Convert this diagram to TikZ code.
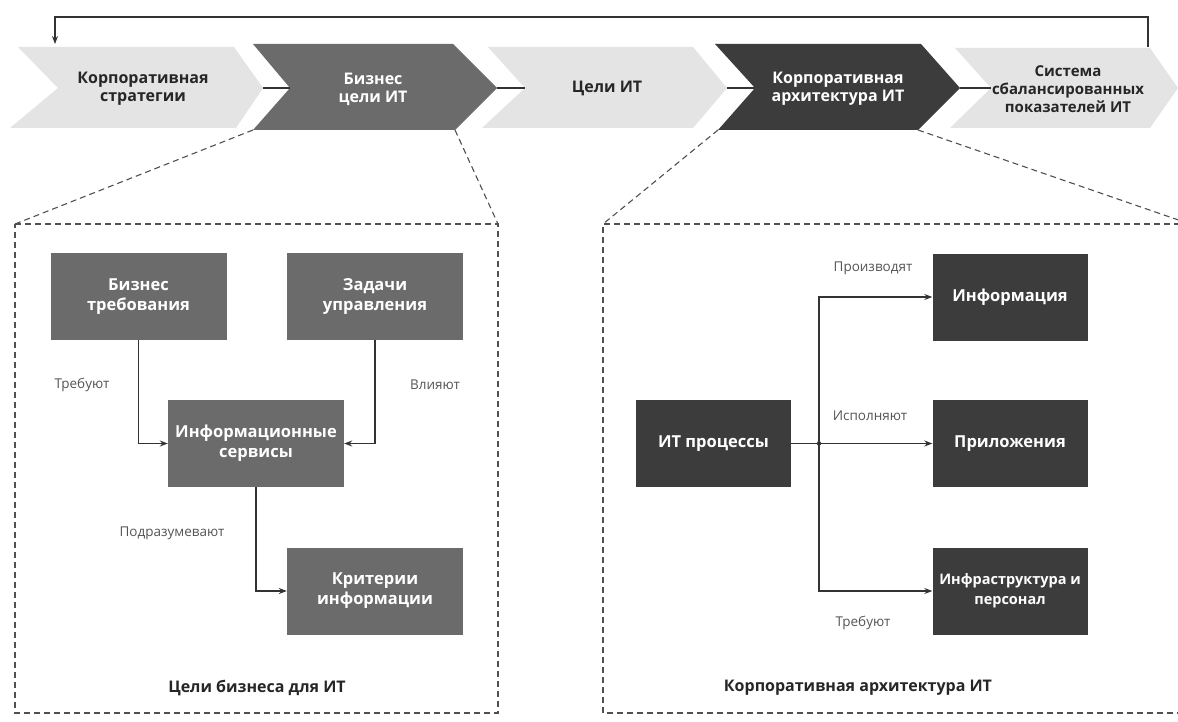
\documentclass[tikz,border=0pt]{standalone}
\usepackage{fontspec}
\setmainfont{Open Sans}
\usetikzlibrary{arrows.meta}
\definecolor{midgray}{HTML}{6B6B6B}
\definecolor{deepgray}{HTML}{3C3C3C}
\definecolor{palegray}{HTML}{E4E4E4}
\definecolor{linegray}{HTML}{333333}
\definecolor{dashgray}{HTML}{505050}
\definecolor{labelgray}{HTML}{555555}
\begin{document}
\begin{tikzpicture}[x=1pt,y=-1pt,
  chevlight/.style={fill=palegray, draw=none},
  chevmid/.style={fill=midgray, draw=none},
  chevdark/.style={fill=deepgray, draw=none},
  chevtext/.style={font=\bfseries\fontsize{16}{18}\selectfont, align=center, inner sep=0pt},
  box/.style={minimum width=176pt, minimum height=87pt, inner sep=0pt, align=center,
    text=white, font=\bfseries\fontsize{16.5}{20}\selectfont},
  midbox/.style={box, fill=midgray},
  darkbox/.style={box, fill=deepgray, minimum width=155pt},
  link/.style={draw=linegray, line width=1.3pt},
  flow/.style={draw=linegray, line width=1.1pt, -{Stealth[length=8pt,width=6pt]}},
  zoomline/.style={draw=dashgray, line width=1.1pt, dash pattern=on 6pt off 4pt},
  lbl/.style={font=\fontsize{13.5}{15}\selectfont, text=labelgray, inner sep=0pt},
  caption/.style={font=\bfseries\fontsize{16}{18}\selectfont, text=black!85, inner sep=0pt}
]
\useasboundingbox (0,0) rectangle (1178,722);
\fill[white] (0,0) rectangle (1178,722);

% value chain of chevrons
\path[chevlight] (18,47) -- (234,47) -- (263,88) -- (236,128) -- (10,128) -- (58,88) -- cycle;
\path[chevmid]   (253,44) -- (453,44) -- (497,88) -- (455,130) -- (253,130) -- (290,88) -- cycle;
\path[chevlight] (488,47) -- (693,47) -- (727,88) -- (693,128) -- (482,128) -- (525,88) -- cycle;
\path[chevdark]  (715,44) -- (921,44) -- (960,88) -- (918,130) -- (718,130) -- (755,88) -- cycle;
\path[chevlight] (955,48) -- (1150,48) -- (1178,88) -- (1150,128) -- (950,128) -- (991,88) -- cycle;

\node[chevtext, text=black!85] (strat) at (143,89) {Корпоративная\\стратегии};
\node[chevtext, text=white] (bgoals) at (373,89) {Бизнес\\цели ИТ};
\node[chevtext, text=black!85] (itgoals) at (607,88) {Цели ИТ};
\node[chevtext, text=white] (earch) at (838,89) {Корпоративная\\архитектура ИТ};
\node[chevtext, text=black!85, font=\bfseries\fontsize{15}{18}\selectfont] (bsc) at (1068,89) {Система\\сбалансированных\\показателей ИТ};

% joints between chevrons
\coordinate (t1) at (263,88); \coordinate (n2) at (290,88);
\coordinate (t2) at (497,88); \coordinate (n3) at (525,88);
\coordinate (t3) at (727,88); \coordinate (n4) at (755,88);
\coordinate (t4) at (960,88); \coordinate (n5) at (991,88);
\draw[link] (t1) -- (n2);
\draw[link] (t2) -- (n3);
\draw[link] (t3) -- (n4);
\draw[link] (t4) -- (n5);

% feedback loop over the chain
\coordinate (fbs) at (1148,47);
\coordinate (fbe) at (55,44);
\draw[draw=linegray, line width=1.3pt, -{Stealth[length=8pt,width=6pt]}]
  (fbs) -- (1148,17) -- (55,17) -- (fbe);

% left detail frame
\coordinate (d1bl) at (253,130); \coordinate (d1br) at (455,130);
\coordinate (lf1) at (15,224);  \coordinate (lf2) at (498,224);
\coordinate (lf3) at (498,713); \coordinate (lf4) at (15,713);
\draw[zoomline] (d1bl) -- (lf1);
\draw[zoomline] (d1br) -- (lf2);
\draw[zoomline] (lf1) -- (lf2) -- (lf3) -- (lf4) -- cycle;

% right detail frame
\coordinate (d2bl) at (718,130); \coordinate (d2br) at (918,130);
\coordinate (rf1) at (603,224);  \coordinate (rf2) at (1190,224);
\coordinate (rf3) at (1190,713); \coordinate (rf4) at (603,713);
\draw[zoomline] (d2bl) -- (rf1);
\draw[zoomline] (d2br) -- (rf2);
\draw[zoomline] (rf2) -- (rf1) -- (rf4) -- (rf3);

% business goals for IT
\node[midbox] (breq) at (138.5,296.5) {Бизнес\\требования};
\node[midbox] (ctrl) at (375,296.5) {Задачи\\управления};
\node[midbox] (isvc) at (256,443.5) {Информационные\\сервисы};
\node[midbox] (crit) at (375,591) {Критерии\\информации};
\draw[flow] (breq.south) |- (isvc.west);
\draw[flow] (ctrl.south) |- (isvc.east);
\draw[flow] (isvc.south) |- (crit.west);
\node[lbl] (lreq) at (82,385) {Требуют};
\node[lbl] (linf) at (435,385) {Влияют};
\node[lbl] (limp) at (172,533) {Подразумевают};
\node[caption] (capl) at (257,688) {Цели бизнеса для ИТ};

% enterprise IT architecture
\node[darkbox] (itp) at (713.5,443.5) {ИТ процессы};
\node[darkbox] (info) at (1010,297) {Информация};
\node[darkbox] (apps) at (1010,443.5) {Приложения};
\node[darkbox, font=\bfseries\fontsize{14.5}{20}\selectfont] (infra) at (1010,591) {Инфраструктура и\\персонал};
\coordinate (jn) at (819,443.5);
\draw[link, line width=1.1pt] (itp.east) -- (jn);
\draw[flow] (jn) |- (info.west);
\draw[flow] (jn) -- (apps.west);
\draw[flow] (jn) |- (infra.west);
\fill[linegray] (jn) circle (2.2pt);
\node[lbl] (lprod) at (873,268) {Производят};
\node[lbl] (lexec) at (870,416) {Исполняют};
\node[lbl] (lneed) at (863,623) {Требуют};
\node[caption] (capr) at (858,688) {Корпоративная архитектура ИТ};
\end{tikzpicture}
\end{document}
